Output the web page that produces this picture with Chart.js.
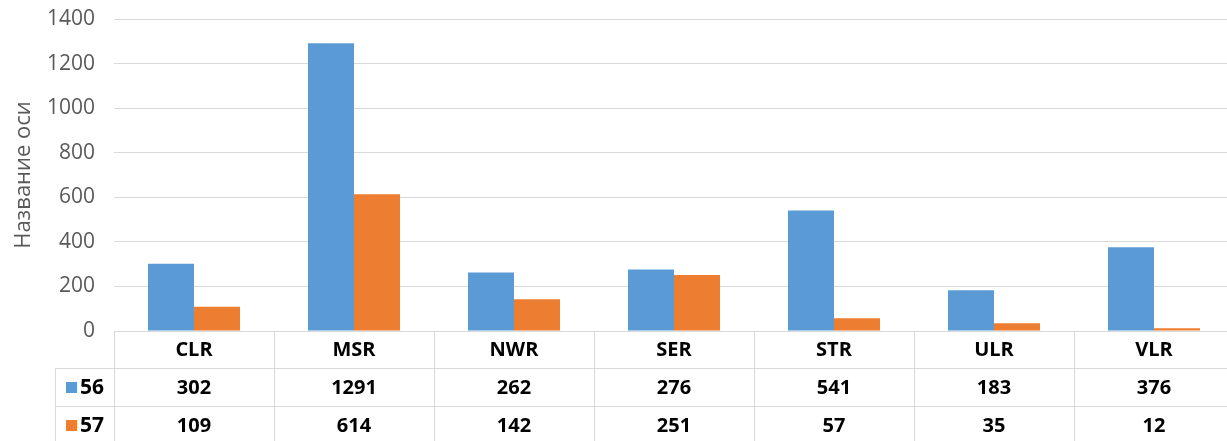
<!DOCTYPE html>
<html>
<head>
<meta charset="utf-8">
<script src="https://cdn.jsdelivr.net/npm/chart.js@4"></script>
<style>
  html, body { margin: 0; padding: 0; background: #fff; overflow: hidden; }
  #wrap { width: 1227px; height: 441px; overflow: hidden; }
</style>
</head>
<body>
<div id="wrap"><canvas id="chart" width="1234" height="441"></canvas></div>
<script>
const CATEGORIES = ["CLR", "MSR", "NWR", "SER", "STR", "ULR", "VLR"];
const SERIES_NAMES = ["56", "57"];
const VALUES_56 = [302, 1291, 262, 276, 541, 183, 376];
const VALUES_57 = [109, 614, 142, 251, 57, 35, 12];
const Y_TICKS = [0, 200, 400, 600, 800, 1000, 1200, 1400];
const AXIS_TITLE = "Название оси";

const FONT = "Open Sans, Liberation Sans, sans-serif";
const COLORS = ["#5b9bd5", "#ed7d31"];
const GRID = "#d9d9d9";

// excel-style data table under the plot
const dataTable = {
  id: "dataTable",
  afterDraw(chart) {
    const ctx = chart.ctx;
    const area = chart.chartArea;
    const n = CATEGORIES.length;
    const w = (area.right - area.left) / n;
    const rowH = [37, 38, 38];
    const legendLeft = 55;
    const y0 = Math.round(area.bottom);
    const y1 = y0 + rowH[0];
    const y2 = y1 + rowH[1];
    const y3 = y2 + rowH[2];
    const rows = [VALUES_56, VALUES_57];

    ctx.save();
    ctx.strokeStyle = GRID;
    ctx.lineWidth = 1;
    ctx.beginPath();
    ctx.moveTo(area.left, y0 + 0.5); ctx.lineTo(area.right, y0 + 0.5);
    ctx.moveTo(legendLeft, y1 + 0.5); ctx.lineTo(area.right, y1 + 0.5);
    ctx.moveTo(legendLeft, y2 + 0.5); ctx.lineTo(area.right, y2 + 0.5);
    for (let i = 0; i <= n; i++) {
      const x = Math.round(area.left + i * w) + 0.5;
      ctx.moveTo(x, y0); ctx.lineTo(x, y3);
    }
    ctx.moveTo(legendLeft + 0.5, y1); ctx.lineTo(legendLeft + 0.5, y3);
    ctx.stroke();

    ctx.fillStyle = "#000";
    ctx.font = "bold 20px " + FONT;
    ctx.textAlign = "center";
    ctx.textBaseline = "middle";
    CATEGORIES.forEach((c, i) => {
      const x = chart.scales.x.getPixelForValue(i);
      ctx.fillText(c, x, (y0 + y1) / 2 + 1);
      ctx.fillText(String(rows[0][i]), x, (y1 + y2) / 2 + 1);
      ctx.fillText(String(rows[1][i]), x, (y2 + y3) / 2 + 1);
    });

    // legend keys
    [y1, y2].forEach((top, r) => {
      const cy = top + rowH[r + 1] / 2;
      ctx.fillStyle = COLORS[r];
      ctx.fillRect(66, Math.round(cy - 5), 11, 11);
      ctx.fillStyle = "#000";
      ctx.font = "bold 21px " + FONT;
      ctx.textAlign = "left";
      ctx.fillText(SERIES_NAMES[r], 80, cy + 1);
    });
    ctx.restore();
  }
};

new Chart(document.getElementById("chart"), {
  type: "bar",
  data: {
    labels: CATEGORIES,
    datasets: [
      { label: SERIES_NAMES[0], data: VALUES_56, backgroundColor: COLORS[0] },
      { label: SERIES_NAMES[1], data: VALUES_57, backgroundColor: COLORS[1] },
    ]
  },
  options: {
    responsive: false,
    animation: false,
    layout: { padding: { top: 19, bottom: 110, left: 0, right: 0 } },
    datasets: { bar: { categoryPercentage: 0.575, barPercentage: 1 } },
    scales: {
      x: { display: false },
      y: {
        min: 0,
        max: 1400,
        afterFit: (s) => { s.width = 114; s.paddingTop = 0; s.paddingBottom = 0; },
        afterBuildTicks: (s) => { s.ticks = Y_TICKS.map(v => ({ value: v })); },
        border: { display: false },
        grid: { color: GRID, drawTicks: false },
        ticks: {
          color: "#595959",
          font: { family: FONT, size: 21 },
          padding: 19,
          callback: (v) => String(v)
        },
        title: {
          display: true,
          text: AXIS_TITLE,
          color: "#595959",
          font: { family: FONT, size: 22 },
          padding: { top: 11, bottom: 0 }
        }
      }
    },
    plugins: {
      legend: { display: false },
      tooltip: { enabled: false }
    }
  },
  plugins: [dataTable]
});
</script>
</body>
</html>
